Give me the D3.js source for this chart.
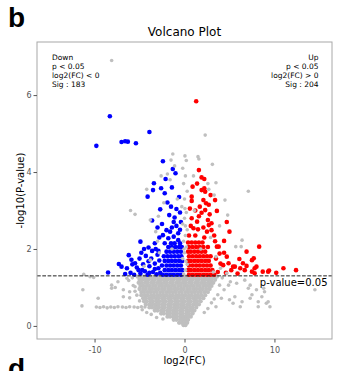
<!DOCTYPE html>
<html>
<head>
<meta charset="utf-8">
<script src="https://cdn.jsdelivr.net/npm/d3@7"></script>
<style>
    body { margin: 0; background: #fff; }
    text { font-family: "DejaVu Sans", sans-serif; }
</style>
</head>
<body>
<svg width="337" height="371"></svg>
<script>
let xTicks = [-10, 0, 10];
let yTicks = [0, 2, 4, 6];
let pThreshold = 0.05;
let downText = ["Down", "p < 0.05", "log2(FC) < 0", "Sig : 183"];
let upText = ["Up", "p < 0.05", "log2(FC) > 0", "Sig : 204"];

// dense non-significant cloud, one row per -log10(p) level: [y, [x...]]
let grayRows = [
    [1.28, [-5.2,-4.8,-4.5,-4.1,-3.8,-3.4,-3.1,-2.7,-2.4,-2.0,-1.7,-1.3,-1.0,-0.6,-0.3,0.1,0.4,0.8,1.1,1.5,1.8,2.2,2.5,2.9,3.2,3.6]],
    [1.20, [-5.0,-4.7,-4.3,-4.0,-3.6,-3.3,-2.9,-2.6,-2.2,-1.9,-1.5,-1.2,-0.8,-0.5,-0.1,0.2,0.6,0.9,1.3,1.6,2.0,2.3,2.7,3.0,3.4]],
    [1.12, [-5.1,-4.8,-4.4,-4.1,-3.7,-3.4,-3.0,-2.7,-2.3,-2.0,-1.6,-1.3,-0.9,-0.6,-0.2,0.1,0.5,0.8,1.2,1.5,1.9,2.2,2.6,2.9,3.2]],
    [1.04, [-4.9,-4.6,-4.2,-3.9,-3.5,-3.2,-2.8,-2.5,-2.1,-1.8,-1.4,-1.1,-0.7,-0.4,0.0,0.3,0.7,1.0,1.4,1.7,2.1,2.4,2.7,3.0]],
    [0.96, [-5.0,-4.6,-4.3,-3.9,-3.6,-3.2,-2.9,-2.5,-2.2,-1.8,-1.5,-1.1,-0.8,-0.4,-0.1,0.3,0.6,1.0,1.3,1.7,2.0,2.4,2.8]],
    [0.88, [-4.8,-4.5,-4.1,-3.8,-3.4,-3.1,-2.7,-2.4,-2.0,-1.7,-1.3,-1.0,-0.6,-0.3,0.1,0.4,0.8,1.1,1.5,1.8,2.2,2.6]],
    [0.80, [-4.8,-4.4,-4.1,-3.7,-3.4,-3.0,-2.7,-2.3,-2.0,-1.6,-1.3,-0.9,-0.6,-0.2,0.1,0.5,0.8,1.2,1.5,1.9,2.3]],
    [0.72, [-4.6,-4.3,-3.9,-3.6,-3.2,-2.9,-2.5,-2.2,-1.8,-1.5,-1.1,-0.8,-0.4,-0.1,0.3,0.6,1.0,1.3,1.7,2.1]],
    [0.64, [-4.5,-4.2,-3.8,-3.5,-3.1,-2.8,-2.4,-2.1,-1.7,-1.4,-1.0,-0.7,-0.3,0.0,0.4,0.7,1.1,1.4,1.8]],
    [0.56, [-4.3,-3.9,-3.6,-3.2,-2.9,-2.5,-2.2,-1.8,-1.5,-1.1,-0.8,-0.4,-0.1,0.3,0.6,1.0,1.3,1.6]],
    [0.48, [-3.9,-3.6,-3.2,-2.9,-2.5,-2.2,-1.8,-1.5,-1.1,-0.8,-0.4,-0.1,0.2,0.6,0.9,1.3]],
    [0.40, [-3.3,-3.0,-2.6,-2.3,-1.9,-1.6,-1.2,-0.9,-0.5,-0.2,0.2,0.5,0.8,1.1]],
    [0.32, [-2.6,-2.3,-1.9,-1.6,-1.2,-0.9,-0.5,-0.2,0.2,0.5,0.9]],
    [0.24, [-1.9,-1.6,-1.2,-0.9,-0.5,-0.2,0.1,0.4,0.7]],
    [0.16, [-1.2,-0.9,-0.5,-0.2,0.1,0.4]],
    [0.08, [-0.6,-0.3,0.0,0.3]],
    [0.02, [-0.1,0.1]]
];

// scattered non-significant genes [log2FC, -log10p]
let grayPoints = [
    [-8.1,6.9],[2.3,4.96],[-1.3,4.47],[-1.5,4.31],[-1.1,4.16],[1.5,4.4],[1.6,4.34],[3.1,4.2],[3.5,3.72],[7.1,3.5],
    [4.5,3.27],[4.8,2.88],[6.4,2.23],[5.7,2.06],[6.3,2.06],[-4.2,3.55],[-6.0,3.0],[-3.8,2.75],
    [0.05,4.42],[0.2,4.3],[-0.2,4.1],[0.1,3.9],[-0.1,3.7],[0.3,3.5],[0.0,3.3],[-0.3,3.1],[0.2,2.95],[0.0,2.8],
    [-0.2,2.65],[0.3,2.5],[0.1,2.35],[-0.1,2.2],[0.2,2.05],[0.0,1.9],[-0.2,1.75],[0.3,1.6],[0.1,1.45],[-0.1,1.35],
    [0.15,1.68],[-0.05,2.0],[0.1,2.6],[0.05,3.05],
    [-3.8,1.71],[-4.5,1.55],[-3.0,2.2],[-2.8,1.9],[-5.5,2.9],[-3.2,2.45],[-2.9,2.85],[-2.3,3.2],[-1.6,3.8],[-2.6,3.9],
    [2.6,3.7],[3.3,3.4],[1.1,3.0],[2.9,2.3],[3.5,1.8],[4.0,1.5],[3.2,1.4],[1.0,3.9],[2.7,3.55],[3.9,2.6],
    [-0.8,3.3],[-1.9,3.95],[1.8,2.0],[-1.4,2.0],
    [-11.2,1.34],[-11.3,0.94],[-11.4,0.52],[-10.5,1.28],[-10.1,1.26],[-9.6,0.72],[-8.1,0.98],[-7.7,1.0],[-8.1,1.06],
    [-7.4,1.15],[-6.8,0.94],[-6.4,1.24],[-6.1,0.89],[-5.5,1.02],[-6.8,0.76],[-6.1,0.73],[-5.3,0.8],[-5.8,1.25],[-6.2,1.18],
    [-9.8,0.49],[-9.4,0.48],[-9.0,0.5],[-8.6,0.47],[-8.2,0.49],[-7.8,0.48],[-7.4,0.5],[-6.9,0.49],[-6.5,0.48],
    [-6.1,0.5],[-5.6,0.49],[-5.2,0.48],[-4.8,0.5],[-4.4,0.49],
    [4.9,1.06],[5.1,1.15],[5.8,1.11],[6.7,1.19],[7.3,1.06],[7.1,0.98],[8.0,0.94],[8.8,0.98],[8.9,0.89],[8.6,0.76],
    [8.2,0.63],[7.5,0.81],[7.3,0.72],[6.4,0.63],[6.2,0.5],[8.2,0.5],[9.5,0.5],[14.5,0.94],[5.0,0.68],[5.4,0.59],
    [5.6,0.76],[9.3,0.63],[9.1,0.59],[4.7,1.37],[4.2,1.25],[3.9,1.06],[4.4,0.94],[3.7,0.81],[3.3,0.7],[3.0,0.6],
    [4.1,0.72],[2.6,0.45],[2.2,0.35],[3.5,0.5],
    [-5.7,1.05],[-5.5,0.9],[-5.0,0.65],[-4.7,0.42],[-4.2,0.35],[-3.7,0.3],[-3.1,0.22],[-2.4,0.18]
];

// significantly down-regulated
let downPoints = [
    [-9.8,4.68],[-8.3,5.45],[-7.0,4.78],[-6.6,4.8],[-6.3,4.79],[-5.4,4.75],[-3.9,5.04],[-2.4,4.28],[-1.3,4.08],[-1.0,3.97],
    [-2.1,3.82],[-3.4,3.71],[-3.5,3.53],[-4.1,3.36],[-2.6,3.58],[-2.2,3.45],[-1.9,3.21],[-1.4,3.6],[-2.7,3.03],[-0.9,3.04],
    [-1.7,2.88],[-1.1,2.82],[-3.6,2.74],[-3.0,2.56],[-2.0,2.49],[-1.4,2.56],[-0.9,2.6],[-0.7,2.41],[-2.4,2.36],[-1.8,2.28],
    [-1.2,2.32],[-0.7,2.23],[-4.9,2.19],[-4.0,2.04],[-2.2,2.15],[-6.2,1.84],[-7.0,1.54],[-8.5,1.39],[-5.5,1.63],[-5.1,1.45],
    [-6.6,1.35],[-7.3,1.61],
    [-0.5,2.95],[-1.5,3.1],[-0.6,3.35],[-1.2,2.7],[-2.5,2.65],[-0.4,2.7],[-1.6,2.45],[-0.5,2.5],[-2.8,2.3],[-3.3,2.15],
    [-2.4,1.33],[-2.0,1.33],[-1.6,1.33],[-1.2,1.33],[-0.8,1.33],[-0.4,1.33],
    [-2.2,1.45],[-1.8,1.45],[-1.4,1.45],[-1.0,1.45],[-0.6,1.45],[-0.25,1.45],
    [-2.5,1.57],[-2.0,1.57],[-1.6,1.57],[-1.2,1.57],[-0.8,1.57],[-0.4,1.57],
    [-2.2,1.69],[-1.8,1.69],[-1.4,1.69],[-1.0,1.69],[-0.6,1.69],[-0.25,1.69],
    [-2.3,1.81],[-1.9,1.81],[-1.5,1.81],[-1.1,1.81],[-0.7,1.81],[-0.35,1.81],
    [-2.0,1.93],[-1.6,1.93],[-1.2,1.93],[-0.8,1.93],[-0.4,1.93],
    [-1.8,2.05],[-1.4,2.05],[-1.0,2.05],[-0.6,2.05],[-0.3,2.05],
    [-1.5,2.15],[-1.1,2.15],[-0.5,2.15],
    [-6.0,1.38],[-5.6,1.33],[-5.3,1.52],[-4.9,1.36],[-4.6,1.6],[-4.4,1.42],[-4.1,1.33],[-3.9,1.55],[-3.7,1.75],[-3.5,1.4],
    [-3.3,1.62],[-3.1,1.34],[-3.0,1.85],[-2.9,1.5],[-2.8,1.7],[-4.3,1.82],[-5.0,1.75],[-5.8,1.6],[-4.8,1.9],[-3.6,1.95],
    [-2.7,1.38],[-3.3,1.48],[-4.0,1.68],[-6.4,1.5],[-5.9,1.72],[-4.5,2.0],[-3.2,2.0],[-3.9,1.38],[-2.9,1.95],[-4.7,1.45]
];

// significantly up-regulated
let upPoints = [
    [1.3,5.84],
    [1.6,4.05],[1.9,3.86],[2.2,3.82],[0.9,3.62],[1.9,3.53],[2.2,3.58],[2.3,3.49],[0.8,3.36],[0.8,3.25],[2.1,3.27],
    [2.4,3.19],[3.4,3.27],[1.7,3.1],[2.3,3.01],[1.9,2.94],[3.6,2.99],[0.8,2.8],[1.4,2.71],[2.6,2.75],[3.0,2.67],
    [4.7,2.7],[5.0,2.45],[4.4,2.21],[3.8,2.06],[4.4,1.9],[6.1,1.74],[6.9,1.93],[8.3,2.06],[7.5,1.71],[6.5,1.63],
    [5.6,1.54],[4.9,1.63],[7.8,1.5],[8.7,1.41],[9.3,1.41],[6.7,1.45],[7.7,1.76],[8.0,1.54],[9.4,1.44],[11.0,1.5],
    [7.8,1.37],[12.4,1.45],[10.2,1.38],
    [1.0,2.54],[1.5,2.51],[2.1,2.56],[2.5,2.45],[3.0,2.49],[3.6,2.06],[4.7,1.8],[4.3,1.58],[5.4,1.54],[6.9,1.56],[7.5,1.41],
    [1.2,3.0],[0.6,3.05],[1.6,2.85],[2.8,2.9],[0.7,2.6],[2.2,2.3],[1.2,2.35],[0.5,2.35],[3.3,2.35],[2.7,2.62],
    [3.4,2.2],[2.9,3.4],[1.4,3.7],[2.7,3.15],
    [0.5,1.33],[0.9,1.33],[1.3,1.33],[1.7,1.33],[2.1,1.33],[2.5,1.33],[2.9,1.33],[3.3,1.33],
    [0.4,1.45],[0.7,1.45],[1.1,1.45],[1.5,1.45],[1.9,1.45],[2.3,1.45],[2.7,1.45],[3.1,1.45],
    [0.5,1.57],[0.9,1.57],[1.3,1.57],[1.7,1.57],[2.1,1.57],[2.5,1.57],[2.9,1.57],
    [0.4,1.69],[0.7,1.69],[1.1,1.69],[1.5,1.69],[1.9,1.69],[2.3,1.69],[2.7,1.69],
    [0.5,1.81],[0.9,1.81],[1.3,1.81],[1.7,1.81],[2.1,1.81],[2.5,1.81],[2.9,1.81],
    [0.4,1.93],[0.7,1.93],[1.1,1.93],[1.5,1.93],[1.9,1.93],[2.3,1.93],
    [0.5,2.05],[0.9,2.05],[1.3,2.05],[1.7,2.05],[2.1,2.05],[2.6,2.05],
    [0.4,2.17],[0.8,2.17],[1.2,2.17],[1.6,2.17],[2.0,2.17],
    [3.7,1.4],[4.0,1.62],[3.5,1.75],[4.6,1.38],[5.2,1.45],[3.9,1.88],[5.9,1.36],[6.2,1.5]
];

let svg = d3.select("svg");
let margin = {top: 42, right: 5, bottom: 32, left: 37},
    width = +svg.attr("width") - margin.left - margin.right,
    height = +svg.attr("height") - margin.top - margin.bottom;

// panel letters (the next panel's "d" is cut by the bottom edge, as in the figure)
svg.append("text").attr("x", 8).attr("y", 27)
    .style("font", "bold 28px 'Liberation Sans', Arial, sans-serif").text("b");
svg.append("text").attr("x", 8).attr("y", 378)
    .style("font", "bold 28px 'Liberation Sans', Arial, sans-serif").text("d");

svg.append("text")
    .attr("x", margin.left + width / 2).attr("y", 36)
    .attr("text-anchor", "middle")
    .style("font-size", "12px")
    .text("Volcano Plot");

let g = svg.append("g").attr("transform", "translate(" + margin.left + "," + margin.top + ")");

let x = d3.scaleLinear().domain([-16.4, 16.4]).range([0, width]),
    y = d3.scaleLinear().domain([-0.34, 7.38]).range([height, 0]);

let blob = [];
grayRows.forEach(function (row) {
    row[1].forEach(function (v) { blob.push([v, row[0]]); });
});

let plot = g.append("g");

plot.selectAll(".blob").data(blob).enter().append("circle")
    .attr("cx", function (d) { return x(d[0]); })
    .attr("cy", function (d) { return y(d[1]); })
    .attr("r", 2.15).attr("fill", "#bfbfbf");

plot.selectAll(".down").data(downPoints).enter().append("circle")
    .attr("cx", function (d) { return x(d[0]); })
    .attr("cy", function (d) { return y(d[1]); })
    .attr("r", 2.3).attr("fill", "#0000ff");

plot.selectAll(".up").data(upPoints).enter().append("circle")
    .attr("cx", function (d) { return x(d[0]); })
    .attr("cy", function (d) { return y(d[1]); })
    .attr("r", 2.3).attr("fill", "#ff0000");

plot.selectAll(".ns").data(grayPoints).enter().append("circle")
    .attr("cx", function (d) { return x(d[0]); })
    .attr("cy", function (d) { return y(d[1]); })
    .attr("r", 1.8).attr("fill", "#bfbfbf");

// significance threshold
let yLine = y(-Math.log10(pThreshold));
g.append("line")
    .attr("x1", 0).attr("x2", width)
    .attr("y1", yLine).attr("y2", yLine)
    .attr("stroke", "#222").attr("stroke-width", 1)
    .attr("stroke-dasharray", "3.7,1.6");

g.append("text")
    .attr("x", x(15.9)).attr("y", yLine + 10)
    .attr("text-anchor", "end")
    .style("font-size", "10px")
    .text("p-value=0.05");

// frame
g.append("rect")
    .attr("width", width).attr("height", height)
    .attr("fill", "none").attr("stroke", "#a8a8a8").attr("stroke-width", 1);

let xAxis = g.append("g")
    .attr("transform", "translate(0," + height + ")")
    .call(d3.axisBottom(x).tickValues(xTicks).tickSize(3.5).tickSizeOuter(0).tickPadding(4.5)
        .tickFormat(function (d) { return String(d); }));
let yAxis = g.append("g")
    .call(d3.axisLeft(y).tickValues(yTicks).tickSize(3.5).tickSizeOuter(0).tickPadding(2));

[xAxis, yAxis].forEach(function (a) {
    a.select(".domain").remove();
    a.selectAll("line").attr("stroke", "#555");
    a.selectAll("text").attr("fill", "#555").style("font-family", "'DejaVu Sans', sans-serif").style("font-size", "8px");
});

svg.append("text")
    .attr("x", margin.left + width / 2).attr("y", 364)
    .attr("text-anchor", "middle")
    .style("font-size", "10px")
    .text("log2(FC)");

svg.append("text")
    .attr("transform", "translate(24," + (margin.top + height / 2) + ") rotate(-90)")
    .attr("text-anchor", "middle")
    .style("font-size", "10px")
    .text("-log10(P-value)");

// annotation blocks
g.append("g").selectAll("text").data(downText).enter().append("text")
    .attr("x", 15)
    .attr("y", function (d, i) { return 17.5 + i * 9; })
    .style("font-size", "7.5px")
    .text(function (d) { return d; });

g.append("g").selectAll("text").data(upText).enter().append("text")
    .attr("x", 281.5)
    .attr("y", function (d, i) { return 17.5 + i * 9; })
    .attr("text-anchor", "end")
    .style("font-size", "7.5px")
    .text(function (d) { return d; });
</script>
</body>
</html>
